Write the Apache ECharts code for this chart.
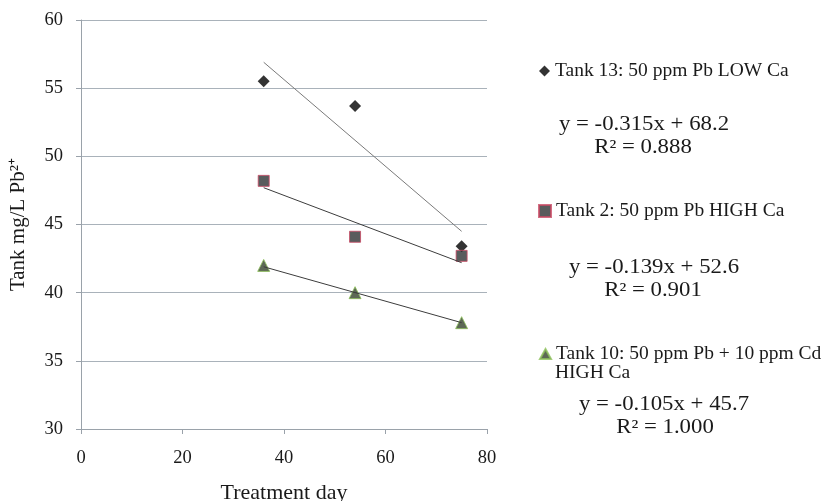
<!DOCTYPE html>
<html>
<head>
<meta charset="utf-8">
<script src="https://cdn.jsdelivr.net/npm/echarts@6/dist/echarts.min.js"></script>
<style>
  html, body { margin: 0; padding: 0; background: #fff; }
  #main { width: 824px; height: 501px; }
</style>
</head>
<body>
<div id="main"></div>
<script>
// measured points
var days = [36, 54, 75];
var tank13 = [55.5, 53.7, 43.4];
var tank2 = [48.2, 44.1, 42.7];
var tank10 = [42.0, 40.0, 37.8];

// trendline end points
var trendDays = [36, 75];
var trend13 = [56.9, 44.5];
var trend2 = [47.7, 42.2];
var trend10 = [41.9, 37.8];

var names = ['Tank 13: 50 ppm Pb LOW Ca', 'Tank 2: 50 ppm Pb HIGH Ca', 'Tank 10: 50 ppm Pb + 10 ppm Cd HIGH Ca'];
var legendLabels = ['Tank 13: 50 ppm Pb LOW Ca', 'Tank 2: 50 ppm Pb HIGH Ca', 'Tank 10: 50 ppm Pb + 10 ppm Cd'];
var equations = ['y = -0.315x + 68.2', 'y = -0.139x + 52.6', 'y = -0.105x + 45.7'];
var rSquared = ['R² = 0.888', 'R² = 0.901', 'R² = 1.000'];

var font = '"Liberation Serif", "Times New Roman", serif';
var textColor = '#1a1a1a';

function pairs(xs, ys) {
    return xs.map(function (x, i) { return [x, ys[i]]; });
}

// equation text, a bit wider than the font like in the original
function eqText(str, x, y) {
    return {
        type: 'text', x: x, y: y, scaleX: 1.14,
        style: { text: str, font: '20px ' + font, fill: textColor, align: 'center', verticalAlign: 'middle' }
    };
}

var myChart = echarts.init(document.getElementById('main'));

var legendCommon = {
    orient: 'vertical',
    padding: 0,
    selectedMode: false,
    formatter: function (name) { return legendLabels[names.indexOf(name)]; },
    textStyle: { fontFamily: font, fontSize: 19.5, color: textColor }
};

myChart.setOption({
    animation: false,
    grid: { left: 81, right: 337, top: 20, bottom: 72, containLabel: false, outerBoundsMode: 'none' },
    xAxis: {
        type: 'value',
        min: 0, max: 80, interval: 20,
        name: 'Treatment day',
        nameLocation: 'middle',
        nameGap: 53,
        nameTextStyle: { fontFamily: font, fontSize: 22, color: textColor },
        axisLine: { show: true, lineStyle: { color: '#9aa2aa' } },
        axisTick: { show: true, length: 5, lineStyle: { color: '#9aa2aa' } },
        axisLabel: { margin: 20, fontFamily: font, fontSize: 18.5, color: textColor },
        splitLine: { show: false }
    },
    yAxis: {
        type: 'value',
        min: 30, max: 60, interval: 5,
        name: 'Tank mg/L Pb²⁺',
        nameLocation: 'middle',
        nameGap: 52,
        nameTextStyle: { fontFamily: font, fontSize: 21, color: textColor },
        axisLine: { show: true, lineStyle: { color: '#9aa2aa' } },
        axisTick: { show: true, length: 5, lineStyle: { color: '#9aa2aa' } },
        axisLabel: { margin: 18, fontFamily: font, fontSize: 18.5, color: textColor },
        splitLine: { show: true, lineStyle: { color: '#a9b2ba', width: 1 } }
    },
    legend: [
        Object.assign({ data: [names[0]], left: 539, top: 61, itemWidth: 11, itemHeight: 11, itemStyle: { borderWidth: 0 } }, legendCommon),
        Object.assign({ data: [names[1]], left: 538, top: 201, itemWidth: 12, itemHeight: 12 }, legendCommon),
        Object.assign({ data: [names[2]], left: 539, top: 344, itemWidth: 11, itemHeight: 10 }, legendCommon)
    ],
    graphic: [
        { type: 'text', x: 555, y: 373, style: { text: 'HIGH Ca', font: '19.5px ' + font, fill: textColor, verticalAlign: 'middle' } },
        eqText(equations[0], 644, 125),
        eqText(rSquared[0], 643, 148),
        eqText(equations[1], 654, 268),
        eqText(rSquared[1], 653, 291),
        eqText(equations[2], 664, 405),
        eqText(rSquared[2], 665, 428)
    ],
    series: [
        // trendlines
        { name: 'trend13', type: 'line', data: pairs(trendDays, trend13), symbol: 'none', silent: true,
          lineStyle: { color: '#7a7a7a', width: 1 } },
        { name: 'trend2', type: 'line', data: pairs(trendDays, trend2), symbol: 'none', silent: true,
          lineStyle: { color: '#3c3c3c', width: 1 } },
        { name: 'trend10', type: 'line', data: pairs(trendDays, trend10), symbol: 'none', silent: true,
          lineStyle: { color: '#3c3c3c', width: 1 } },
        // points
        { name: names[0], type: 'scatter', data: pairs(days, tank13), symbol: 'diamond', symbolSize: 12,
          itemStyle: { color: '#000000' } },
        { name: names[1], type: 'scatter', data: pairs(days, tank2), symbol: 'rect', symbolSize: 11,
          itemStyle: { color: '#2f3335', borderColor: '#c94a64', borderWidth: 1 } },
        { name: names[2], type: 'scatter', data: pairs(days, tank10), symbol: 'triangle', symbolSize: 12,
          itemStyle: { color: '#34442c', borderColor: '#8dc25a', borderWidth: 1 } }
    ]
});
</script>
</body>
</html>
